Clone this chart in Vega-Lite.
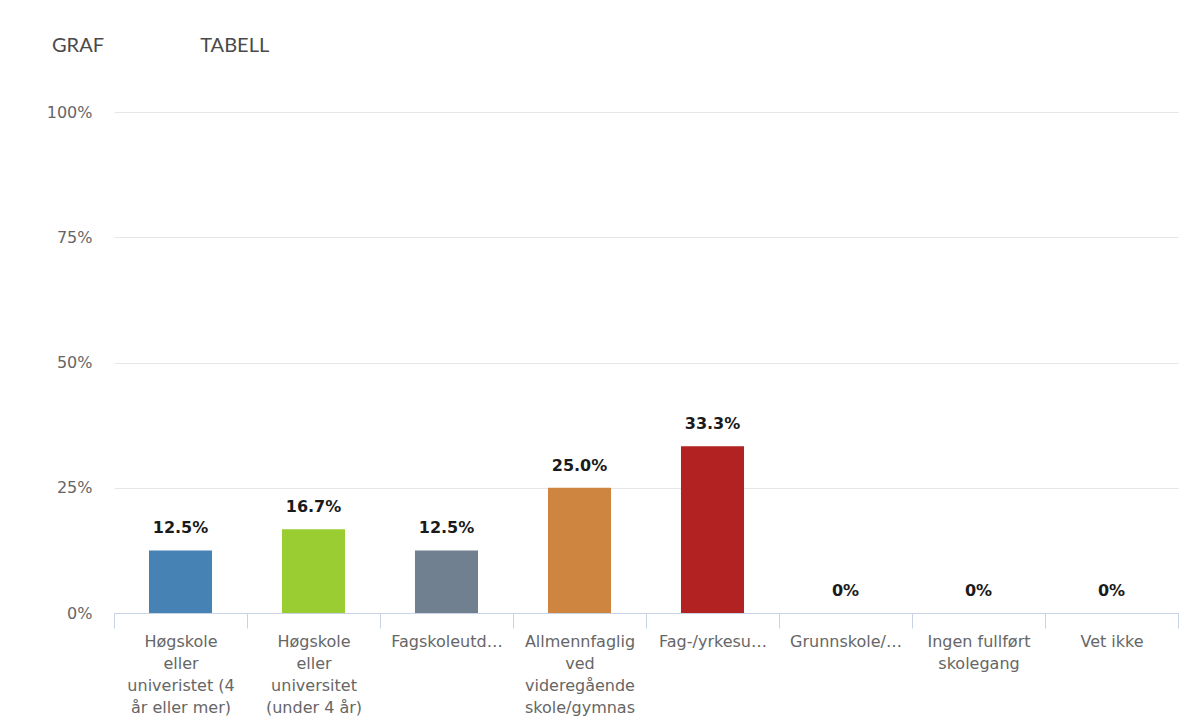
{
  "$schema": "https://vega.github.io/schema/vega-lite/v6.json",
  "width": 1064,
  "height": 501,
  "autosize": {"type": "none"},
  "padding": {"left": 114, "top": 112, "right": 5, "bottom": 114},
  "background": "white",
  "view": {"stroke": null},
  "title": {
    "text": "GRAF\u00a0\u00a0\u00a0\u00a0\u00a0\u00a0\u00a0\u00a0\u00a0\u00a0\u00a0\u00a0\u00a0\u00a0\u00a0\u00a0\u00a0\u00a0\u00a0TABELL",
    "anchor": "start",
    "frame": "group",
    "dx": -62,
    "offset": 48,
    "font": "Lato",
    "fontSize": 20,
    "fontWeight": "normal",
    "color": "#4a4a4a"
  },
  "data": {
    "values": [
      {"category": "Høgskole eller univeristet (4 år eller mer)", "share": 12.5},
      {"category": "Høgskole eller universitet (under 4 år)", "share": 16.7},
      {"category": "Fagskoleutdanning", "share": 12.5},
      {"category": "Allmennfaglig ved videregående skole/gymnas", "share": 25.0},
      {"category": "Fag-/yrkesutdanning", "share": 33.3},
      {"category": "Grunnskole/ungdomsskole", "share": 0},
      {"category": "Ingen fullført skolegang", "share": 0},
      {"category": "Vet ikke", "share": 0}
    ]
  },
  "transform": [
    {"calculate": "datum.share == 0 ? '0%' : format(datum.share, '.1f') + '%'", "as": "label"}
  ],
  "encoding": {
    "x": {
      "field": "category",
      "type": "nominal",
      "sort": null,
      "scale": {"paddingInner": 0, "paddingOuter": 0},
      "axis": {
        "title": null,
        "labelAngle": 0,
        "domainColor": "#c8d4e6",
        "tickColor": "#c8d4e6",
        "tickBand": "extent",
        "tickSize": 15,
        "labelPadding": 5,
        "labelFont": "DejaVu Sans",
        "labelFontSize": 16,
        "labelColor": "#666666",
        "labelLineHeight": 22,
        "labelLimit": 200,
        "labelExpr": "datum.value == 'Høgskole eller univeristet (4 år eller mer)' ? ['Høgskole','eller','univeristet (4','år eller mer)'] : datum.value == 'Høgskole eller universitet (under 4 år)' ? ['Høgskole','eller','universitet','(under 4 år)'] : datum.value == 'Fagskoleutdanning' ? 'Fagskoleutd…' : datum.value == 'Allmennfaglig ved videregående skole/gymnas' ? ['Allmennfaglig','ved','videregående','skole/gymnas'] : datum.value == 'Fag-/yrkesutdanning' ? 'Fag-/yrkesu…' : datum.value == 'Grunnskole/ungdomsskole' ? 'Grunnskole/…' : datum.value == 'Ingen fullført skolegang' ? ['Ingen fullført','skolegang'] : datum.value"
      }
    },
    "y": {
      "field": "share",
      "type": "quantitative",
      "scale": {"domain": [0, 100]},
      "axis": {
        "title": null,
        "values": [0, 25, 50, 75, 100],
        "labelExpr": "datum.value + '%'",
        "domain": false,
        "ticks": false,
        "labelPadding": 22,
        "gridColor": "#e6e6e6",
        "labelFont": "DejaVu Sans",
        "labelFontSize": 16,
        "labelColor": "#666666"
      }
    }
  },
  "layer": [
    {
      "mark": {"type": "bar", "width": {"band": 0.474}},
      "encoding": {
        "color": {
          "field": "category",
          "type": "nominal",
          "sort": null,
          "scale": {"range": ["#4682b4", "#9acd32", "#708090", "#cd853f", "#b22222", "#5f9ea0", "#8b4513", "#483d8b"]},
          "legend": null
        }
      }
    },
    {
      "mark": {"type": "text", "baseline": "alphabetic", "dy": -17, "font": "DejaVu Sans", "fontSize": 16, "fontWeight": "bold", "color": "#1a1a1a"},
      "encoding": {"text": {"field": "label"}}
    }
  ]
}
